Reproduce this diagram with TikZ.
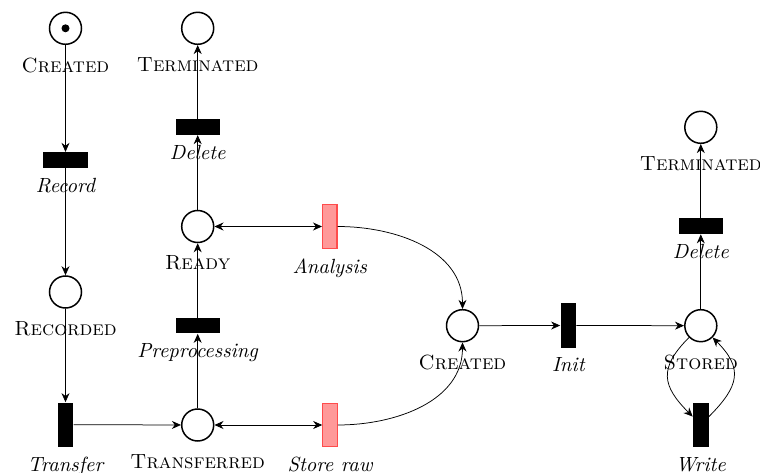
\documentclass[tikz,border=0pt]{standalone}
\usetikzlibrary{arrows.meta}
\begin{document}
\begin{tikzpicture}[x=0.1875mm,y=-0.1875mm,
  >={Stealth[length=1.7mm,width=1.5mm,inset=0.55mm]},
  place/.style={circle,draw,thick,minimum size=6mm,inner sep=0pt},
  plab/.style={font=\fontsize{10.95}{13}\selectfont\scshape,label distance=1.1mm},
  tlab/.style={font=\fontsize{10.95}{13}\selectfont\itshape,label distance=0.6mm},
  htrans/.style={rectangle,fill=black,inner sep=0pt,minimum width=8.3mm,minimum height=2.9mm},
  vtrans/.style={rectangle,fill=black,inner sep=0pt,minimum width=2.9mm,minimum height=8.3mm},
  ptrans/.style={rectangle,fill=red!40,draw=red!70,semithick,inner sep=0pt,minimum width=2.7mm,minimum height=8.1mm},
  arc/.style={->,thin},
  token/.style={circle,fill=black,inner sep=0pt,minimum size=1.5mm}
]
\useasboundingbox (0,0) rectangle (760,473);

% places
\node[place,label={[plab]below:Created}] (c1) at (65.5,28.3) {};
\node[token] (tok) at (c1.center) {};
\node[place,label={[plab]below:Terminated}] (t1) at (197.7,28.3) {};
\node[place,label={[plab]below:Ready}] (ready) at (197.7,226.5) {};
\node[place,label={[plab]below:Recorded}] (rec) at (65.5,292) {};
\node[place,label={[plab]below:Transferred}] (trd) at (197.7,425) {};
\node[place,label={[plab]below:Created}] (c2) at (462.5,325.7) {};
\node[place,label={[plab]below:Stored}] (st) at (700.8,325.7) {};
\node[place,label={[plab]below:Terminated}] (t2) at (700.8,127.3) {};

% transitions
\node[htrans,label={[tlab]below:Record}] (record) at (65.5,160) {};
\node[htrans,label={[tlab]below:Delete}] (del1) at (197.7,127) {};
\node[htrans,label={[tlab]below:Preprocessing}] (pre) at (197.7,325.7) {};
\node[vtrans,label={[tlab]below:Transfer}] (transfer) at (65.5,424.7) {};
\node[ptrans,label={[tlab]below:Analysis}] (ana) at (329.8,226.5) {};
\node[ptrans,label={[tlab]below:Store raw}] (sraw) at (330,425) {};
\node[vtrans,label={[tlab]below:Init}] (init) at (568.3,325.5) {};
\node[htrans,label={[tlab]below:Delete}] (del2) at (700.8,226.2) {};
\node[vtrans,label={[tlab]below:Write}] (write) at (700.8,424.7) {};

% arcs
\draw[arc] (c1) -- (record);
\draw[arc] (record) -- (rec);
\draw[arc] (rec) -- (transfer);
\draw[arc] (transfer) -- (trd);
\draw[arc] (trd) -- (pre);
\draw[arc] (pre) -- (ready);
\draw[arc] (ready) -- (del1);
\draw[arc] (del1) -- (t1);
\draw[thin,<->] (ready) -- (ana);
\draw[thin,<->] (trd) -- (sraw);
\draw[arc] (ana.east) to[out=0,in=90] (c2);
\draw[arc] (sraw.east) to[out=0,in=-90] (c2);
\draw[arc] (c2) -- (init);
\draw[arc] (init) -- (st);
\draw[arc] (st) -- (del2);
\draw[arc] (del2) -- (t2);
\draw[arc] (st) to[out=-135,in=135,looseness=1.4] (write);
\draw[arc] (write) to[out=45,in=-45,looseness=1.4] (st);
\end{tikzpicture}
\end{document}
